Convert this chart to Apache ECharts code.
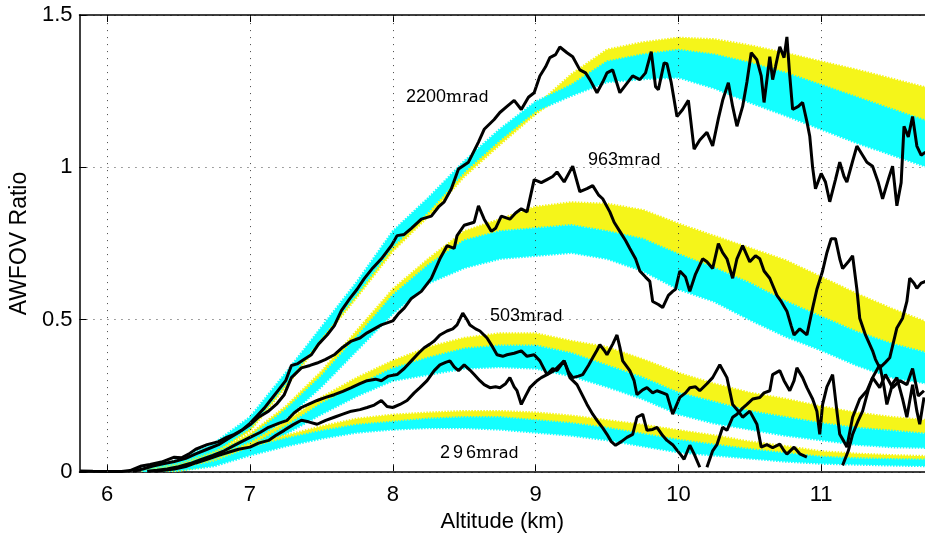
<!DOCTYPE html>
<html>
<head>
<meta charset="utf-8">
<script src="https://cdn.jsdelivr.net/npm/echarts@6/dist/echarts.min.js"></script>
<style>
html,body{margin:0;padding:0;background:#fff;}
#main{width:925px;height:538px;}
</style>
</head>
<body>
<div id="main"></div>
<script>
//x轴刻度
let xTicks = [6, 7, 8, 9, 10, 11];
let yTicks = [0, 0.5, 1, 1.5];

//带状区域的高度
let bandAlt = [6.25, 6.5, 6.75, 7.0, 7.25, 7.5, 7.75, 8.0, 8.25, 8.5, 8.75, 9.0, 9.25, 9.5, 9.75, 10.0, 10.25, 10.5, 10.75, 11.0, 11.25, 11.5, 11.75];

//2200mrad
let b2200YLo = [0.0, 0.015, 0.06, 0.135, 0.28, 0.43, 0.575, 0.725, 0.84, 0.97, 1.075, 1.175, 1.26, 1.34, 1.36, 1.38, 1.36, 1.34, 1.30, 1.26, 1.22, 1.18, 1.14];
let b2200YHi = [0.008, 0.03, 0.08, 0.16, 0.305, 0.455, 0.6, 0.755, 0.87, 1.0, 1.105, 1.2, 1.305, 1.386, 1.41, 1.425, 1.42, 1.40, 1.375, 1.347, 1.32, 1.29, 1.26];
let b2200CLo = [0.0, 0.02, 0.065, 0.145, 0.29, 0.44, 0.585, 0.74, 0.855, 0.985, 1.09, 1.185, 1.235, 1.28, 1.29, 1.295, 1.26, 1.213, 1.17, 1.125, 1.08, 1.04, 1.0];
let b2200CHi = [0.01, 0.04, 0.095, 0.18, 0.325, 0.475, 0.625, 0.79, 0.9, 1.02, 1.125, 1.215, 1.27, 1.347, 1.37, 1.385, 1.37, 1.343, 1.31, 1.27, 1.23, 1.19, 1.15];

//963mrad
let b963YLo = [0.0, 0.012, 0.045, 0.1, 0.19, 0.3, 0.43, 0.56, 0.66, 0.75, 0.79, 0.8, 0.81, 0.79, 0.76, 0.71, 0.67, 0.62, 0.56, 0.51, 0.46, 0.42, 0.39];
let b963YHi = [0.005, 0.025, 0.065, 0.125, 0.215, 0.33, 0.465, 0.6, 0.7, 0.79, 0.83, 0.87, 0.885, 0.88, 0.86, 0.815, 0.775, 0.735, 0.695, 0.64, 0.585, 0.535, 0.49];
let b963CLo = [0.0, 0.01, 0.04, 0.09, 0.175, 0.28, 0.4, 0.52, 0.62, 0.67, 0.7, 0.71, 0.72, 0.7, 0.66, 0.6, 0.56, 0.5, 0.445, 0.4, 0.35, 0.31, 0.29];
let b963CHi = [0.005, 0.022, 0.06, 0.115, 0.205, 0.315, 0.445, 0.58, 0.68, 0.76, 0.79, 0.8, 0.81, 0.79, 0.765, 0.715, 0.67, 0.62, 0.56, 0.51, 0.46, 0.42, 0.39];

//503mrad
let b503YLo = [0.0, 0.01, 0.035, 0.075, 0.14, 0.215, 0.28, 0.33, 0.37, 0.4, 0.415, 0.415, 0.39, 0.35, 0.31, 0.26, 0.23, 0.2, 0.18, 0.16, 0.145, 0.135, 0.125];
let b503YHi = [0.004, 0.02, 0.05, 0.095, 0.165, 0.245, 0.31, 0.365, 0.41, 0.44, 0.455, 0.455, 0.43, 0.41, 0.37, 0.325, 0.29, 0.26, 0.24, 0.215, 0.195, 0.18, 0.17];
let b503CLo = [0.0, 0.008, 0.03, 0.065, 0.125, 0.19, 0.25, 0.3, 0.32, 0.34, 0.345, 0.34, 0.315, 0.28, 0.24, 0.19, 0.16, 0.14, 0.12, 0.105, 0.09, 0.082, 0.08];
let b503CHi = [0.004, 0.018, 0.045, 0.085, 0.15, 0.225, 0.285, 0.34, 0.375, 0.405, 0.415, 0.415, 0.39, 0.35, 0.31, 0.26, 0.23, 0.2, 0.18, 0.16, 0.145, 0.135, 0.125];

//296mrad
let b296YLo = [0.0, 0.005, 0.025, 0.065, 0.095, 0.125, 0.15, 0.165, 0.175, 0.18, 0.18, 0.17, 0.16, 0.145, 0.125, 0.105, 0.09, 0.075, 0.062, 0.05, 0.045, 0.042, 0.04];
let b296YHi = [0.003, 0.015, 0.04, 0.09, 0.12, 0.15, 0.175, 0.188, 0.195, 0.2, 0.2, 0.195, 0.185, 0.17, 0.155, 0.137, 0.12, 0.1, 0.085, 0.068, 0.06, 0.055, 0.052];
let b296CLo = [0.0, 0.005, 0.02, 0.055, 0.085, 0.11, 0.13, 0.14, 0.145, 0.145, 0.14, 0.13, 0.12, 0.105, 0.085, 0.065, 0.055, 0.045, 0.035, 0.028, 0.025, 0.022, 0.02];
let b296CHi = [0.003, 0.012, 0.035, 0.08, 0.11, 0.135, 0.155, 0.165, 0.175, 0.18, 0.18, 0.17, 0.16, 0.145, 0.125, 0.105, 0.09, 0.075, 0.062, 0.05, 0.045, 0.042, 0.04];

//实测曲线 [高度, 比值]
let line2200 = [[5.81,0.004],[5.9,0.003],[6.0,0.002],[6.1,0.002],[6.16,0.005],[6.24,0.02],[6.3,0.025],[6.38,0.033],[6.47,0.049],[6.52,0.047],[6.57,0.059],[6.62,0.075],[6.7,0.09],[6.78,0.1],[6.84,0.115],[6.89,0.124],[6.95,0.14],[7.0,0.16],[7.05,0.185],[7.1,0.21],[7.15,0.24],[7.2,0.27],[7.25,0.3],[7.29,0.35],[7.33,0.355],[7.38,0.37],[7.43,0.385],[7.48,0.42],[7.54,0.45],[7.59,0.48],[7.64,0.53],[7.7,0.57],[7.75,0.6],[7.8,0.635],[7.86,0.67],[7.92,0.7],[7.99,0.743],[8.03,0.776],[8.08,0.78],[8.13,0.8],[8.2,0.83],[8.27,0.84],[8.32,0.87],[8.36,0.887],[8.41,0.93],[8.46,0.995],[8.53,1.017],[8.6,1.083],[8.64,1.125],[8.71,1.157],[8.75,1.18],[8.8,1.2],[8.85,1.22],[8.9,1.19],[8.95,1.23],[8.99,1.245],[9.03,1.3],[9.07,1.33],[9.1,1.36],[9.14,1.37],[9.17,1.395],[9.22,1.376],[9.26,1.363],[9.31,1.32],[9.35,1.31],[9.38,1.288],[9.43,1.245],[9.47,1.28],[9.5,1.31],[9.54,1.32],[9.59,1.245],[9.63,1.27],[9.68,1.3],[9.73,1.288],[9.77,1.31],[9.81,1.38],[9.84,1.265],[9.86,1.255],[9.9,1.343],[9.92,1.34],[9.95,1.278],[9.99,1.167],[10.03,1.19],[10.07,1.22],[10.11,1.06],[10.15,1.09],[10.2,1.115],[10.24,1.07],[10.28,1.16],[10.31,1.22],[10.35,1.278],[10.38,1.2],[10.41,1.135],[10.45,1.2],[10.48,1.28],[10.51,1.376],[10.55,1.353],[10.58,1.3],[10.6,1.213],[10.64,1.363],[10.66,1.288],[10.68,1.33],[10.71,1.396],[10.74,1.36],[10.76,1.428],[10.78,1.3],[10.8,1.19],[10.84,1.2],[10.87,1.213],[10.9,1.15],[10.92,1.102],[10.94,1.0],[10.96,0.93],[11.0,0.98],[11.03,0.952],[11.06,0.887],[11.1,0.96],[11.13,1.017],[11.16,0.97],[11.18,0.952],[11.22,1.02],[11.25,1.07],[11.29,1.04],[11.32,1.017],[11.36,1.004],[11.4,0.95],[11.43,0.897],[11.47,0.96],[11.5,1.004],[11.53,0.874],[11.56,0.95],[11.58,1.135],[11.61,1.1],[11.64,1.167],[11.67,1.07],[11.7,1.04],[11.73,1.05]];

let line963 = [[6.18,0.003],[6.25,0.01],[6.32,0.02],[6.4,0.028],[6.47,0.035],[6.55,0.045],[6.62,0.06],[6.7,0.075],[6.78,0.09],[6.85,0.11],[6.92,0.13],[7.0,0.155],[7.06,0.18],[7.13,0.2],[7.19,0.225],[7.24,0.254],[7.29,0.31],[7.36,0.342],[7.42,0.35],[7.47,0.358],[7.53,0.37],[7.59,0.385],[7.65,0.41],[7.71,0.43],[7.77,0.44],[7.82,0.457],[7.87,0.47],[7.92,0.483],[8.0,0.496],[8.04,0.52],[8.08,0.538],[8.13,0.57],[8.2,0.593],[8.27,0.636],[8.33,0.7],[8.38,0.743],[8.43,0.734],[8.45,0.776],[8.5,0.81],[8.57,0.82],[8.6,0.874],[8.64,0.83],[8.69,0.79],[8.72,0.8],[8.76,0.84],[8.82,0.83],[8.86,0.85],[8.9,0.864],[8.94,0.854],[8.99,0.96],[9.04,0.95],[9.08,0.96],[9.12,0.97],[9.15,0.985],[9.2,0.952],[9.26,1.004],[9.31,0.92],[9.36,0.93],[9.4,0.94],[9.44,0.91],[9.47,0.897],[9.52,0.854],[9.55,0.82],[9.59,0.79],[9.63,0.76],[9.66,0.734],[9.7,0.7],[9.73,0.66],[9.77,0.64],[9.8,0.626],[9.82,0.56],[9.86,0.55],[9.89,0.54],[9.93,0.58],[9.96,0.593],[9.98,0.6],[10.01,0.66],[10.05,0.64],[10.08,0.593],[10.12,0.65],[10.17,0.7],[10.2,0.69],[10.24,0.668],[10.28,0.75],[10.31,0.72],[10.34,0.7],[10.38,0.636],[10.41,0.7],[10.45,0.743],[10.5,0.69],[10.54,0.71],[10.57,0.7],[10.6,0.66],[10.64,0.636],[10.69,0.58],[10.72,0.56],[10.76,0.528],[10.79,0.48],[10.81,0.45],[10.85,0.47],[10.9,0.45],[10.94,0.538],[10.97,0.6],[11.01,0.66],[11.04,0.72],[11.07,0.766],[11.1,0.766],[11.13,0.7],[11.15,0.668],[11.19,0.69],[11.22,0.71],[11.25,0.6],[11.27,0.505],[11.31,0.45],[11.36,0.398],[11.38,0.37],[11.41,0.342],[11.45,0.36],[11.48,0.375],[11.53,0.473],[11.57,0.505],[11.6,0.56],[11.62,0.636],[11.65,0.62],[11.67,0.603],[11.7,0.62],[11.73,0.626]];

let line503 = [[6.28,0.003],[6.35,0.006],[6.42,0.01],[6.5,0.018],[6.58,0.028],[6.66,0.042],[6.74,0.055],[6.82,0.07],[6.9,0.09],[7.0,0.114],[7.07,0.13],[7.13,0.147],[7.2,0.16],[7.26,0.17],[7.31,0.195],[7.36,0.212],[7.42,0.225],[7.47,0.235],[7.53,0.245],[7.59,0.254],[7.65,0.265],[7.71,0.277],[7.77,0.29],[7.82,0.3],[7.88,0.305],[7.92,0.3],[7.97,0.315],[8.03,0.32],[8.08,0.34],[8.13,0.365],[8.18,0.39],[8.22,0.408],[8.26,0.42],[8.29,0.43],[8.33,0.45],[8.38,0.463],[8.42,0.47],[8.45,0.483],[8.49,0.522],[8.52,0.5],[8.54,0.483],[8.58,0.47],[8.61,0.463],[8.66,0.44],[8.7,0.41],[8.73,0.385],[8.77,0.38],[8.8,0.385],[8.85,0.39],[8.9,0.398],[8.94,0.38],[8.99,0.385],[9.03,0.365],[9.08,0.32],[9.12,0.34],[9.15,0.333],[9.2,0.365],[9.24,0.31],[9.29,0.287],[9.33,0.25],[9.36,0.222],[9.4,0.19],[9.43,0.17],[9.47,0.145],[9.5,0.124],[9.53,0.1],[9.56,0.088],[9.6,0.1],[9.64,0.114],[9.68,0.124],[9.71,0.18],[9.75,0.19],[9.78,0.137],[9.82,0.14],[9.85,0.147],[9.89,0.12],[9.92,0.104],[9.96,0.09],[9.99,0.072],[10.02,0.055],[10.04,0.042],[10.08,0.088],[10.11,0.06],[10.15,0.016],[10.17,null],[10.2,0.016],[10.24,0.07],[10.27,0.09],[10.31,0.147],[10.34,0.137],[10.38,0.18],[10.41,0.19],[10.45,0.21],[10.48,0.222],[10.52,0.24],[10.57,0.245],[10.6,0.26],[10.64,0.267],[10.66,0.32],[10.71,0.333],[10.74,0.3],[10.78,0.267],[10.81,0.3],[10.83,0.342],[10.87,0.31],[10.9,0.277],[10.94,0.24],[10.97,0.2],[10.99,0.124],[11.01,0.222],[11.04,0.28],[11.08,0.32],[11.11,0.2],[11.13,0.124],[11.16,0.1],[11.18,0.082],[11.22,0.18],[11.27,0.24],[11.32,0.267],[11.36,0.31],[11.41,0.277],[11.45,0.32],[11.5,0.277],[11.55,0.3],[11.6,0.287],[11.64,0.34],[11.68,0.25],[11.72,0.267]];

let line296 = [[6.33,0.003],[6.4,0.006],[6.47,0.01],[6.55,0.018],[6.62,0.03],[6.7,0.042],[6.78,0.055],[6.85,0.065],[6.92,0.075],[7.0,0.082],[7.06,0.095],[7.13,0.104],[7.18,0.12],[7.24,0.137],[7.3,0.155],[7.36,0.17],[7.41,0.165],[7.47,0.157],[7.53,0.17],[7.59,0.18],[7.65,0.19],[7.71,0.2],[7.77,0.205],[7.82,0.212],[7.87,0.22],[7.92,0.235],[7.96,0.215],[8.0,0.212],[8.05,0.222],[8.1,0.235],[8.15,0.26],[8.19,0.277],[8.24,0.3],[8.29,0.333],[8.33,0.352],[8.37,0.36],[8.4,0.365],[8.43,0.345],[8.46,0.333],[8.5,0.352],[8.54,0.335],[8.57,0.32],[8.61,0.3],[8.64,0.287],[8.68,0.277],[8.72,0.28],[8.75,0.277],[8.79,0.29],[8.82,0.31],[8.85,0.28],[8.87,0.267],[8.9,0.222],[8.93,0.25],[8.96,0.277],[9.01,0.3],[9.04,0.31],[9.08,0.32],[9.12,0.33],[9.15,0.342],[9.2,0.365],[9.23,0.33],[9.26,0.31],[9.3,0.315],[9.33,0.32],[9.37,0.35],[9.4,0.375],[9.43,0.4],[9.45,0.418],[9.48,0.4],[9.5,0.385],[9.54,0.42],[9.57,0.45],[9.59,0.41],[9.61,0.365],[9.66,0.333],[9.69,0.3],[9.71,0.254],[9.75,0.27],[9.78,0.277],[9.82,0.26],[9.85,0.267],[9.89,0.26],[9.92,0.254],[9.96,0.19],[10.01,0.245],[10.05,0.26],[10.08,0.277],[10.12,0.28],[10.15,0.267],[10.2,0.29],[10.24,0.31],[10.29,0.352],[10.34,0.31],[10.38,0.222],[10.42,0.2],[10.45,0.18],[10.5,0.2],[10.55,0.157],[10.58,0.082],[10.62,0.09],[10.66,0.08],[10.71,0.092],[10.74,0.07],[10.76,0.059],[10.81,0.082],[10.85,0.06],[10.9,0.049],[10.95,null],[11.15,0.022],[11.19,0.07],[11.22,0.124],[11.26,0.17],[11.29,0.2],[11.33,0.27],[11.36,0.31],[11.41,0.352],[11.44,0.28],[11.46,0.222],[11.5,0.29],[11.53,0.31],[11.57,0.24],[11.6,0.18],[11.64,0.287],[11.67,0.2],[11.69,0.157],[11.72,0.245]];

let yellow = '#f5f51a';
let cyan = '#14ffff';
let font = 'Liberation Sans';

//用多边形画一条带: 上沿走过去, 下沿走回来
function band(lo, hi, color) {
    let data = [];
    for (let i = 0; i < bandAlt.length; i++) {
        data.push([bandAlt[i], lo[i], hi[i]]);
    }
    return {
        type: 'custom',
        coordinateSystem: 'cartesian2d',
        clip: true,
        silent: true,
        z: 1,
        data: data,
        encode: {x: 0, y: [1, 2]},
        renderItem: function (params, api) {
            if (params.dataIndex != 0) {
                return null;
            }
            let pts = [];
            for (let i = 0; i < data.length; i++) {
                pts.push(api.coord([data[i][0], data[i][2]]));
            }
            for (let i = data.length - 1; i >= 0; i--) {
                pts.push(api.coord([data[i][0], data[i][1]]));
            }
            //虚线描边让边缘有点锯齿感
            return {type: 'polygon', shape: {points: pts},
                style: {fill: color, stroke: color, lineWidth: 2.5, lineDash: [1.5, 1.5]}};
        }
    };
}

function blackLine(data) {
    return {
        type: 'line',
        data: data.map(p => [p[0], p[1] == null ? '-' : p[1]]),
        symbol: 'none',
        silent: true,
        z: 3,
        connectNulls: false,
        lineStyle: {color: '#000', width: 3}
    };
}

let series = [];
//竖直网格线
series.push({
    type: 'line', data: [], z: 0, silent: true,
    markLine: {
        silent: true, symbol: 'none', label: {show: false}, animation: false,
        lineStyle: {color: '#444', type: [1, 6], width: 1},
        data: xTicks.map(v => ({xAxis: v}))
    }
});
series.push(band(b2200YLo, b2200YHi, yellow));
series.push(band(b2200CLo, b2200CHi, cyan));
series.push(band(b963YLo, b963YHi, yellow));
series.push(band(b963CLo, b963CHi, cyan));
series.push(band(b503YLo, b503YHi, yellow));
series.push(band(b503CLo, b503CHi, cyan));
series.push(band(b296YLo, b296YHi, yellow));
series.push(band(b296CLo, b296CHi, cyan));
series.push(blackLine(line2200));
series.push(blackLine(line963));
series.push(blackLine(line503));
series.push(blackLine(line296));

let rich = {
    n: {fontSize: 18, fontFamily: font, color: '#000', verticalAlign: 'bottom'},
    m: {fontSize: 17, fontFamily: 'DejaVu Serif', color: '#000', verticalAlign: 'bottom'},
    r: {fontSize: 16, fontFamily: 'DejaVu Sans', color: '#000', verticalAlign: 'bottom'},
    d: {fontSize: 18, fontFamily: font, color: '#000', verticalAlign: 'bottom', padding: [0, 3, 0, 0]}
};

function label(x, y, text) {
    return {type: 'text', x: x, y: y, z: 10, silent: true,
        style: {text: text, rich: rich, align: 'left', verticalAlign: 'bottom'}};
}

let xMin = 5.806;
let xMax = 11.727;

let chart = echarts.init(document.getElementById('main'));
chart.setOption({
    animation: false,
    backgroundColor: '#fff',
    grid: {left: 78, right: 0, top: 15, bottom: 63},
    xAxis: [{
        type: 'value', min: xMin, max: xMax, position: 'bottom',
        name: 'Altitude (km)', nameLocation: 'middle', nameGap: 36,
        nameTextStyle: {fontSize: 22, fontFamily: font, color: '#000'},
        axisLine: {lineStyle: {color: '#000', width: 1.5}},
        axisTick: {inside: true, length: 7, customValues: xTicks, lineStyle: {color: '#000', width: 1}},
        axisLabel: {customValues: xTicks, margin: 12, fontSize: 22, fontFamily: font, color: '#000'},
        splitLine: {show: false}
    }, {
        type: 'value', min: xMin, max: xMax, position: 'top',
        axisLine: {show: true, lineStyle: {color: '#000', width: 1.5}},
        axisTick: {inside: true, length: 7, customValues: xTicks, lineStyle: {color: '#000', width: 1}},
        axisLabel: {show: false},
        splitLine: {show: false}
    }],
    yAxis: {
        type: 'value', min: 0, max: 1.5, interval: 0.5,
        name: 'AWFOV Ratio', nameLocation: 'middle', nameGap: 44, nameRotate: 90,
        nameTextStyle: {fontSize: 23, fontFamily: font, color: '#000'},
        axisLine: {show: true, lineStyle: {color: '#000', width: 1.5}},
        axisTick: {show: true, inside: true, length: 7, lineStyle: {color: '#000', width: 1}},
        axisLabel: {margin: 7, fontSize: 22, fontFamily: font, color: '#000',
            formatter: v => String(v)},
        splitLine: {show: true, lineStyle: {color: '#444', type: [1, 6], width: 1}}
    },
    series: series,
    graphic: [
        label(406, 106, '{n|2200}{m|m}{r|rad}'),
        label(588, 169, '{n|963}{m|m}{r|rad}'),
        label(490, 325, '{n|503}{m|m}{r|rad}'),
        label(440, 462, '{d|2}{d|9}{n|6}{m|m}{r|rad}')
    ]
});
</script>
</body>
</html>
